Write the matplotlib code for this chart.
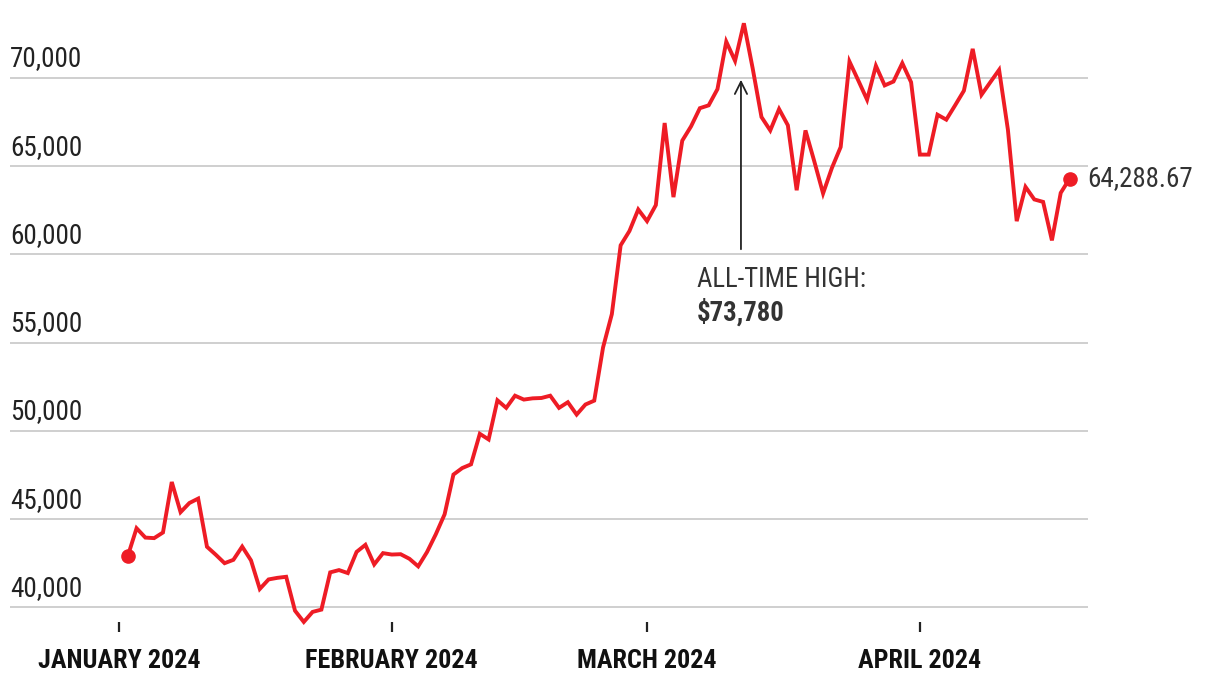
import numpy as np
import pandas as pd
import matplotlib
matplotlib.use("Agg")
import matplotlib.pyplot as plt
import matplotlib.dates as mdates

# daily closing prices (Jan 2 .. Apr 18, 2024)
jan = [42910, 44490, 43960, 43930, 44250, 47110, 45400, 45920, 46170, 43440,
       42990, 42510, 42700, 43450, 42670, 41050, 41590, 41680, 41740, 39820,
       39180, 39750, 39880, 41990, 42120, 41950, 43150, 43550, 42440, 43080]
feb = [43000, 43020, 42760, 42330, 43140, 44150, 45280, 47530, 47900, 48110,
       49840, 49520, 51740, 51310, 52000, 51780, 51850, 51870, 52000, 51310,
       51630, 50930, 51500, 51720, 54730, 56620, 60520, 61330, 62550]
mar = [61890, 62800, 67450, 63250, 66450, 67260, 68290, 68450, 69370, 72060,
       70970, 73100, 70550, 67790, 67030, 68240, 67320, 63640, 67030, 65280,
       63460, 64900, 66090, 70930, 69860, 68770, 70690, 69580, 69800, 70840,
       69760]
apr = [65660, 65660, 67920, 67640, 68450, 69280, 71650, 69050, 69760, 70460,
       67070, 61890, 63830, 63120, 62980, 60800, 63490, 64288.67]

prices = jan + feb + mar + apr
dates = pd.date_range("2024-01-02", periods=len(prices), freq="D")

month_ticks = pd.to_datetime(["2024-01-01", "2024-02-01", "2024-03-01", "2024-04-01"])
month_labels = ["JANUARY 2024", "FEBRUARY 2024", "MARCH 2024", "APRIL 2024"]
y_ticks = [40000, 45000, 50000, 55000, 60000, 65000, 70000]

ath_label = "$73,780"
last_label = "64,288.67"

plt.rcParams['font.family'] = ['Roboto Condensed', 'Liberation Sans Narrow', 'Roboto', 'DejaVu Sans']

RED = "#ee1c25"
GRID = "#cccccc"
TXT = "#333333"

fig = plt.figure(figsize=(12.2, 6.8), dpi=100)
# plot box: x 10..1088 px, y 0..622 px
ax = fig.add_axes([10 / 1220, 58 / 680, 1078 / 1220, 622 / 680])

ax.plot(dates, prices, color=RED, lw=2.8, solid_joinstyle="miter", clip_on=False, zorder=3)
ax.plot([dates[0], dates[-1]], [prices[0], prices[-1]], "o", color=RED,
        ms=9.5, clip_on=False, zorder=4)

for v in y_ticks:
    ax.axhline(v, color=GRID, lw=1.3, zorder=1)
    ax.annotate(f"{v:,}", xy=(0, v), xycoords=("axes fraction", "data"),
                xytext=(0, 4), textcoords="offset points",
                ha="left", va="bottom", fontsize=19.5, color="#222222")

start = pd.Timestamp("2024-01-01")
ax.set_xlim(start - pd.Timedelta(days=12.38), start + pd.Timedelta(days=110.1))
ax.set_ylim(39178, 74419)

ax.set_xticks(month_ticks)
ax.set_xticklabels(month_labels, fontsize=18.8, fontweight="bold", color="#111111")
ax.tick_params(axis="x", length=7, width=1.6, color="#222222", pad=12.5, direction="out")
ax.set_yticks([])
for s in ax.spines.values():
    s.set_visible(False)

# all-time high annotation
ath_x = start + pd.Timedelta(days=70.67)
ax.annotate("", xy=(ath_x, 69900), xytext=(ath_x, 60300),
            arrowprops=dict(arrowstyle="->", color="#222222", lw=1.3,
                            mutation_scale=22, shrinkA=0, shrinkB=0))
ax.text(start + pd.Timedelta(days=65.7), 58555, "ALL-TIME HIGH:", fontsize=19.3,
        color=TXT, ha="left", va="center")
ax.text(start + pd.Timedelta(days=65.7), 56690, ath_label, fontsize=19.3,
        fontweight="bold", color=TXT, ha="left", va="center")

# last value label
ax.annotate(last_label, xy=(dates[-1], prices[-1]), xytext=(13, 0),
            textcoords="offset points", ha="left", va="center",
            fontsize=19.5, color=TXT)

fig.savefig("out.png", dpi=100)
